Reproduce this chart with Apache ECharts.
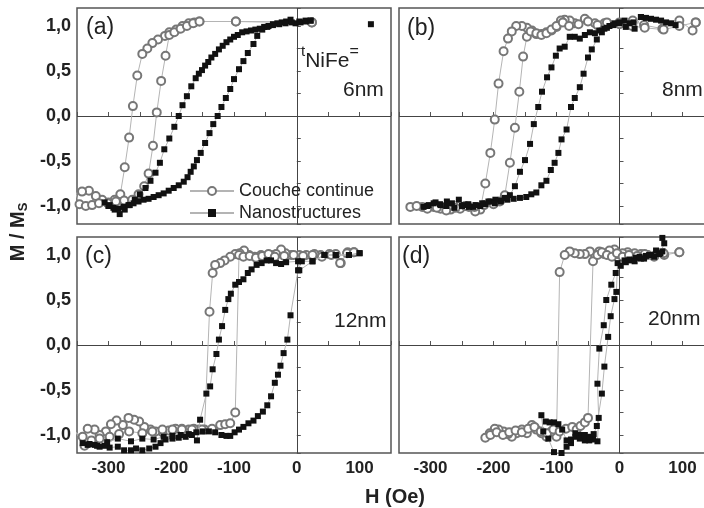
<!DOCTYPE html>
<html>
<head>
<meta charset="utf-8">
<script src="https://cdn.jsdelivr.net/npm/echarts@6/dist/echarts.min.js"></script>
<style>
  html, body { margin: 0; padding: 0; background: #fff; }
  #chart { width: 704px; height: 508px; }
</style>
</head>
<body>
<div id="chart"></div>
<script>
const contA = [[24,1.04],[-97,1.05],[-155,1.05],[-163,1.04],[-172,1.03],[-182,1.00],[-192,0.96],[-203,0.93],[-210,0.89],[-221,0.85],[-230,0.81],[-238,0.75],[-246,0.69],[-254,0.45],[-261,0.11],[-267,-0.24],[-274,-0.57],[-281,-0.87],[-290,-0.93],[-300,-0.96],[-310,-0.93],[-320,-0.89],[-331,-0.83],[-342,-0.84],[-352,-0.86],
  [-346,-0.98],[-336,-1.00],[-326,-0.99],[-315,-0.97],[-301,-0.97],[-288,-0.95],[-275,-0.94],[-262,-0.93],[-252,-0.87],[-243,-0.78],[-236,-0.64],[-229,-0.33],[-223,0.04],[-216,0.39],[-209,0.67],[-203,0.90],[-195,0.93],[-185,0.97],[-175,1.00],[-165,1.03],[-155,1.05],[-97,1.05],[24,1.04]];
// first point is a lone square near +118 Oe, not joined to the loop
const nanoA = [[118,1.02],'-',[22,1.06],[14,1.05],[6,1.04],[-2,1.03],[-10,1.07],[-17,1.05],[-24,1.04],[-31,1.03],[-38,1.02],[-45,1.00],[-52,0.99],[-59,0.97],[-66,0.96],[-73,0.95],[-80,0.94],[-87,0.93],[-94,0.90],[-100,0.88],[-106,0.85],[-112,0.82],[-118,0.78],[-124,0.74],[-130,0.69],[-136,0.65],[-141,0.60],[-146,0.56],[-151,0.51],[-156,0.47],[-161,0.42],[-168,0.33],[-175,0.22],[-182,0.12],[-188,0.00],[-195,-0.12],[-203,-0.25],[-211,-0.37],[-218,-0.52],[-225,-0.63],[-233,-0.72],[-241,-0.80],[-250,-0.87],[-258,-0.93],[-266,-0.99],[-274,-1.04],[-282,-1.09],[-290,-1.04],[-298,-0.99],[-306,-0.96],
  [-300,-1.00],[-292,-1.02],[-284,-1.03],[-276,-1.01],[-268,-0.99],[-260,-0.97],[-252,-0.95],[-244,-0.93],[-236,-0.92],[-228,-0.90],[-220,-0.88],[-212,-0.86],[-204,-0.83],[-196,-0.80],[-188,-0.77],[-180,-0.73],[-174,-0.68],[-169,-0.62],[-164,-0.56],[-159,-0.49],[-153,-0.41],[-146,-0.30],[-139,-0.19],[-133,-0.09],[-126,0.00],[-120,0.10],[-113,0.20],[-106,0.30],[-100,0.41],[-92,0.52],[-85,0.61],[-78,0.70],[-69,0.80],[-63,0.89],[-55,0.96],[-47,0.99],[-38,1.01],[-28,1.02],[-18,1.03],[-8,1.04],[4,1.05],[14,1.06],[22,1.06]];

const contB = [[121,1.04],[116,0.95],[95,1.06],[68,0.97],[39,1.01],[21,1.06],[0,1.04],[-24,1.03],[-39,1.03],[-55,1.08],[-71,1.03],[-79,1.06],[-87,1.07],[-93,1.06],[-100,0.99],[-108,0.95],[-116,0.93],[-124,0.91],[-132,0.91],[-139,0.95],[-147,0.98],[-155,1.00],[-164,1.00],[-171,0.94],[-177,0.86],[-184,0.72],[-192,0.36],[-198,-0.04],[-205,-0.41],[-213,-0.75],[-221,-1.04],[-229,-1.06],[-239,-1.01],[-253,-1.03],[-268,-1.04],[-284,-1.03],[-295,-1.01],[-313,-1.01],[-332,-1.01],
  [-322,-1.00],[-305,-1.03],[-290,-1.02],[-275,-1.05],[-260,-1.02],[-245,-1.00],[-230,-1.01],[-215,-0.99],[-200,-0.98],[-190,-0.95],[-182,-0.88],[-174,-0.52],[-166,-0.13],[-159,0.27],[-153,0.66],[-147,0.88],[-141,0.94],[-132,0.92],[-124,0.90],[-116,0.92],[-108,0.96],[-100,1.00],[-90,1.04],[-80,1.00],[-65,1.02],[-50,1.05],[-35,1.01],[-20,1.04],[0,1.02],[20,1.00],[40,0.98],[70,0.96],[95,1.00],[121,1.04]];
const nanoB = [[89,1.01],[82,1.03],[74,1.04],[66,1.06],[58,1.07],[50,1.08],[42,1.09],[34,1.10],[24,0.97],[16,1.03],[8,1.06],[0,1.04],[-8,1.03],[-16,1.00],[-24,0.97],[-32,0.95],[-39,0.92],[-47,0.93],[-55,0.90],[-63,0.86],[-71,0.88],[-79,0.88],[-87,0.77],[-95,0.75],[-101,0.67],[-108,0.54],[-115,0.43],[-123,0.27],[-129,0.10],[-136,-0.09],[-142,-0.31],[-150,-0.49],[-158,-0.62],[-166,-0.78],[-174,-0.88],[-182,-0.91],[-189,-0.95],[-197,-0.93],[-205,-0.95],[-213,-0.98],[-221,-1.00],[-232,-1.01],[-239,-1.01],[-247,-0.99],[-255,-0.93],[-266,-0.97],[-274,-0.95],[-284,-0.99],[-292,-0.96],[-303,-0.99],[-311,-1.01],
  [-305,-1.00],[-295,-0.97],[-285,-0.98],[-275,-1.00],[-262,-1.02],[-250,-1.00],[-240,-0.98],[-228,-0.99],[-218,-0.97],[-208,-0.95],[-198,-0.97],[-188,-0.94],[-178,-0.93],[-168,-0.92],[-158,-0.91],[-148,-0.90],[-140,-0.87],[-132,-0.85],[-124,-0.77],[-116,-0.72],[-109,-0.60],[-103,-0.52],[-97,-0.41],[-92,-0.26],[-84,-0.15],[-77,0.10],[-71,0.20],[-63,0.32],[-57,0.47],[-50,0.65],[-44,0.74],[-36,0.85],[-28,0.93],[-20,0.98],[-10,1.01],[0,1.03],[10,0.99],[22,1.04],[34,1.10]];

const contC = [[91,1.03],[81,1.03],[70,0.91],[62,1.01],[52,1.01],[38,1.00],[28,1.01],[15,1.00],[4,1.00],[-9,1.00],[-18,1.02],[-25,1.06],[-33,1.01],[-41,1.00],[-48,0.98],[-57,1.00],[-67,0.98],[-76,1.00],[-84,1.05],[-91,1.02],[-98,1.01],[-106,0.98],[-115,0.94],[-122,0.91],[-130,0.89],[-134,0.80],[-139,0.37],[-147,-0.94],[-156,-0.94],[-164,-0.93],[-172,-0.94],[-183,-0.93],[-193,-0.93],[-204,-0.95],[-214,-0.97],[-225,-0.96],[-233,-0.94],[-243,-0.91],[-251,-0.85],[-259,-0.83],[-268,-0.81],[-277,-0.89],[-287,-0.84],[-296,-0.88],[-304,-0.96],[-314,-1.00],[-322,-0.94],[-333,-0.93],[-341,-1.02],[-352,-0.97],
  [-338,-1.12],[-327,-1.06],[-314,-1.04],[-298,-1.02],[-283,-0.99],[-267,-0.96],[-246,-0.98],[-230,-0.96],[-214,-0.94],[-198,-0.94],[-183,-0.94],[-167,-0.94],[-151,-0.94],[-135,-0.93],[-122,-0.89],[-114,-0.88],[-106,-0.87],[-98,-0.75],[-92,1.00],[-85,0.98],[-75,0.99],[-65,0.97],[-55,0.99],[-45,1.01],[-35,0.98],[-20,0.99],[-5,1.00],[10,0.99],[25,1.00],[40,0.98],[55,1.00],[69,0.91],[80,1.02],[91,1.03]];
const nanoC = [[100,1.02],[83,1.00],[62,1.00],[44,1.00],[25,0.93],[4,0.83],[2,0.93],[-17,0.92],[-25,0.90],[-33,0.91],[-41,0.94],[-48,0.94],[-56,0.91],[-64,0.89],[-72,0.84],[-78,0.80],[-85,0.73],[-92,0.70],[-98,0.67],[-105,0.57],[-109,0.51],[-114,0.39],[-119,0.21],[-124,0.06],[-128,-0.10],[-134,-0.27],[-138,-0.46],[-144,-0.54],[-154,-0.83],[-159,-1.06],[-167,-1.00],[-177,-1.02],[-188,-1.03],[-198,-1.04],[-209,-1.05],[-217,-1.09],[-225,-1.13],[-235,-1.15],[-246,-1.17],[-256,-1.15],[-264,-1.17],[-275,-1.17],[-285,-1.13],[-298,-1.14],[-306,-1.12],[-314,-1.13],[-322,-1.11],[-333,-1.11],[-341,-1.09],
  [-330,-1.10],[-318,-1.12],[-302,-1.08],[-285,-1.04],[-264,-1.07],[-246,-1.04],[-228,-1.05],[-212,-1.02],[-198,-1.01],[-185,-1.00],[-172,-0.99],[-160,-0.97],[-150,-0.96],[-140,-0.96],[-130,-0.97],[-120,-1.00],[-112,-1.01],[-106,-1.01],[-99,-0.97],[-92,-0.94],[-85,-0.91],[-77,-0.87],[-69,-0.84],[-62,-0.79],[-54,-0.74],[-47,-0.67],[-41,-0.57],[-35,-0.42],[-30,-0.33],[-26,-0.23],[-21,-0.09],[-15,0.06],[-10,0.33],[2,0.83],[8,0.93],[25,0.93],[44,1.00],[62,1.00],[83,1.00],[100,1.02]];

const contD = [[95,1.03],[71,1.00],[55,0.99],[45,1.00],[34,1.01],[24,1.02],[13,1.03],[5,1.02],[-3,1.01],[-8,1.06],[-16,1.05],[-24,1.01],[-32,1.04],[-39,1.00],[-47,1.04],[-55,1.01],[-63,1.01],[-71,1.02],[-79,1.04],[-87,1.00],[-95,0.81],[-100,-1.02],[-108,-0.96],[-116,-1.02],[-124,-0.98],[-132,-0.94],[-139,-0.89],[-147,-0.98],[-155,-0.94],[-163,-0.98],[-171,-1.02],[-177,-0.99],[-184,-0.96],[-192,-0.94],[-198,-0.93],[-206,-0.98],[-213,-1.03],
  [-205,-1.00],[-195,-0.97],[-185,-1.00],[-175,-0.97],[-165,-0.95],[-155,-0.97],[-145,-0.93],[-135,-0.91],[-125,-0.96],[-115,-0.98],[-105,-0.94],[-95,-0.96],[-85,-0.93],[-75,-0.91],[-68,-0.94],[-62,-0.90],[-55,-0.86],[-50,-0.81],[-42,0.93],[-35,1.00],[-28,1.03],[-20,1.00],[-12,0.98],[-4,1.02],[5,0.98],[15,1.00],[28,0.99],[40,1.01],[55,0.98],[70,1.02],[95,1.03]];
const nanoD = [[68,1.19],[71,1.13],[65,1.02],[58,1.05],[50,1.00],[42,0.99],[34,0.96],[26,0.97],[18,0.94],[10,0.92],[2,0.88],[-6,0.80],[-13,0.67],[-21,0.50],[-25,0.22],[-32,-0.04],[-35,-0.43],[-33,-0.81],[-35,-1.07],[-42,-1.05],[-48,-1.06],[-55,-1.06],[-63,-1.00],[-70,-0.98],[-77,-1.09],[-84,-1.06],[-91,-0.94],[-97,-0.88],[-104,-0.86],[-111,-0.86],[-117,-0.85],[-124,-0.78],
  [-121,-0.96],[-113,-1.04],[-104,-1.19],[-92,-1.20],[-84,-1.13],[-77,-1.05],[-70,-1.02],[-63,-1.04],[-55,-1.00],[-48,-1.02],[-41,-0.99],[-36,-0.90],[-28,-0.54],[-24,-0.24],[-18,0.09],[-14,0.32],[-8,0.51],[-5,0.59],[-3,0.91],[8,0.94],[16,0.95],[24,0.93],[32,0.98],[39,0.96],[47,1.00],[55,0.98],[63,1.01],[68,1.04]];

const panelNames = ['(a)', '(b)', '(c)', '(d)'];
const thickness = ['6nm', '8nm', '12nm', '20nm'];
const contData = [contA, contB, contC, contD];
const nanoData = [nanoA, nanoB, nanoC, nanoD];

const chart = echarts.init(document.getElementById('chart'));
const FONT = 'Liberation Sans';
const AXIS_COL = '#555';

// grid boxes (b) and (d) run a bit past the right edge, like the cropped original
const grids = [
  { left: 77, top: 8, width: 314, height: 216 },
  { left: 399, top: 8, width: 315, height: 216 },
  { left: 77, top: 237, width: 314, height: 216 },
  { left: 399, top: 237, width: 315, height: 216 },
].map(g => ({
  ...g, show: true, borderColor: AXIS_COL, borderWidth: 1.5, backgroundColor: 'transparent',
  outerBoundsMode: 'none', containLabel: false,
}));

const xAxes = grids.map((g, i) => ({
  type: 'value', gridIndex: i, min: -350, max: 150, interval: 50,
  axisLine: { show: false },
  axisTick: { show: true, inside: true, length: 4, lineStyle: { color: AXIS_COL } },
  splitLine: { show: false },
  axisLabel: {
    show: i >= 2, margin: 7, color: '#222', fontFamily: FONT, fontWeight: 'bold', fontSize: 17,
    formatter: v => (v % 100 === 0 ? String(v) : ''),
  },
}));

const yAxes = grids.map((g, i) => ({
  type: 'value', gridIndex: i, min: -1.2, max: 1.2, splitNumber: 5,
  axisLine: { show: false },
  axisTick: { show: true, inside: true, length: 4, lineStyle: { color: AXIS_COL } },
  minorTick: { show: true, splitNumber: 2, length: 4, lineStyle: { color: AXIS_COL } },
  splitLine: { show: false },
  axisLabel: {
    show: i % 2 === 0, margin: 6, color: '#222', fontFamily: FONT, fontWeight: 'bold', fontSize: 18,
    formatter: v => (Math.abs(v) > 1.05 ? '' : v.toFixed(1).replace('.', ',')),
  },
}));

const series = [];
for (let i = 0; i < 4; i++) {
  series.push({
    name: 'Couche continue', type: 'line', xAxisIndex: i, yAxisIndex: i,
    data: contData[i], symbol: 'emptyCircle', symbolSize: 8, z: 3,
    itemStyle: { color: '#777', borderWidth: 1 },
    lineStyle: { color: '#b4b4b4', width: 1 },
    animation: false,
    markLine: {
      silent: true, symbol: 'none', label: { show: false }, z: 1,
      lineStyle: { color: '#444', width: 1, type: 'solid' },
      data: [{ xAxis: 0 }, { yAxis: 0 }],
    },
  });
  series.push({
    name: 'Nanostructures', type: 'line', xAxisIndex: i, yAxisIndex: i,
    data: nanoData[i], symbol: 'rect', symbolSize: 6, z: 4,
    itemStyle: { color: '#111' },
    lineStyle: { color: '#b4b4b4', width: 1 },
    animation: false,
  });
}

const txt = (text, x, y, size, weight, extra) => ({
  type: 'text', x, y, z: 10,
  style: Object.assign({ text, fill: '#222', fontSize: size, fontWeight: weight || 'normal', fontFamily: FONT }, extra || {}),
});

const graphic = [
  txt(panelNames[0], 86, 16, 23),
  txt(panelNames[1], 407, 17, 23),
  txt(panelNames[2], 85, 245, 23),
  txt(panelNames[3], 402, 245, 23),
  txt(thickness[0], 343, 80, 21),
  txt(thickness[1], 662, 80, 21),
  txt(thickness[2], 334, 311, 21),
  txt(thickness[3], 648, 309, 21),
  {
    type: 'text', x: 301, y: 44, z: 10,
    style: {
      text: '{t|t}{n|NiFe}{e|=}', fill: '#222',
      rich: {
        t: { fontSize: 15, fontFamily: FONT, verticalAlign: 'top', lineHeight: 28, fill: '#222' },
        n: { fontSize: 21, fontFamily: FONT, verticalAlign: 'bottom', lineHeight: 28, fill: '#222' },
        e: { fontSize: 16, fontFamily: FONT, verticalAlign: 'top', lineHeight: 28, fill: '#222' },
      },
    },
  },
  {
    type: 'text', x: 18, y: 232, rotation: Math.PI / 2, z: 10,
    style: {
      text: '{m|M / M}{s|S}', align: 'center', verticalAlign: 'middle', fill: '#222',
      rich: {
        m: { fontSize: 20, fontWeight: 'bold', fontFamily: FONT, verticalAlign: 'middle', lineHeight: 24, fill: '#222' },
        s: { fontSize: 13, fontWeight: 'bold', fontFamily: FONT, verticalAlign: 'bottom', lineHeight: 24, fill: '#222' },
      },
    },
  },
  txt('H (Oe)', 395, 497, 20, 'bold', { align: 'center', verticalAlign: 'middle' }),
];

chart.setOption({
  animation: false,
  grid: grids,
  xAxis: xAxes,
  yAxis: yAxes,
  legend: {
    data: ['Couche continue', 'Nanostructures'],
    orient: 'vertical', left: 184, top: 177,
    itemWidth: 44, itemHeight: 10, itemGap: 4,
    selectedMode: false,
    textStyle: { fontSize: 18, lineHeight: 18, color: '#222', fontFamily: FONT },
  },
  graphic,
  series,
});

window.addEventListener('resize', () => chart.resize());
</script>
</body>
</html>
